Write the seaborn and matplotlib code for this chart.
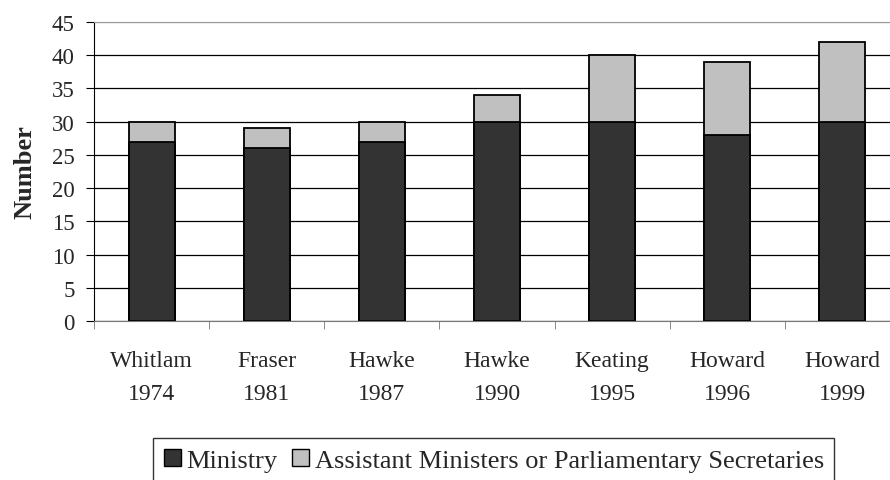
import pandas as pd
import numpy as np
import matplotlib.pyplot as plt
import matplotlib.patches as mpatches
import seaborn as sns

# data
governments = ['Whitlam\n1974', 'Fraser\n1981', 'Hawke\n1987', 'Hawke\n1990',
               'Keating\n1995', 'Howard\n1996', 'Howard\n1999']
ministry = [27, 26, 27, 30, 30, 28, 30]
assistants = [3, 3, 3, 4, 10, 11, 12]

df = pd.DataFrame({'gov': governments, 'Ministry': ministry,
                   'Assistant': assistants})
df['Total'] = df['Ministry'] + df['Assistant']

sns.set_style('white')
plt.rcParams['font.family'] = ['Liberation Serif', 'DejaVu Serif']

fig = plt.figure(figsize=(8.9, 4.81), dpi=100)
ax = fig.add_axes([94 / 890, 159 / 481, 806 / 890, 299 / 481])

# stacked bars: total underneath in light gray, ministry on top of it in dark
sns.barplot(data=df, x='gov', y='Total', color='#C0C0C0', width=0.4,
            edgecolor='black', linewidth=1.3, saturation=1, ax=ax)
sns.barplot(data=df, x='gov', y='Ministry', color='#333333', width=0.4,
            edgecolor='black', linewidth=1.3, saturation=1, ax=ax)

ax.set_xlim(-0.5, 6.5)
ax.set_ylim(0, 45)
ax.set_yticks(np.arange(0, 46, 5))
ax.set_axisbelow(True)
ax.yaxis.grid(True, color='black', linewidth=0.9)
ax.xaxis.grid(False)
ax.get_ygridlines()[-1].set_color('#999999')

ax.spines['right'].set_visible(False)
ax.spines['top'].set_color('#999999')
ax.spines['left'].set_color('black')
ax.spines['bottom'].set_color('#777777')

ax.set_xticks(np.arange(7))
ax.set_xticklabels(governments, fontsize=17, linespacing=1.75)
ax.set_xticks(np.arange(-0.5, 7, 1), minor=True)
ax.tick_params(axis='x', which='major', length=0, pad=21)
ax.tick_params(axis='x', which='minor', length=6, color='#777777',
               direction='out', bottom=True)
ax.tick_params(axis='y', length=6, color='black', direction='out',
               left=True, labelsize=16.5, pad=8)

ax.set_xlabel('')
ax.set_ylabel('Number', fontsize=19, fontweight='bold', labelpad=11)

handles = [mpatches.Patch(facecolor='#333333', edgecolor='black', label='Ministry'),
           mpatches.Patch(facecolor='#C0C0C0', edgecolor='black',
                          label='Assistant Ministers or Parliamentary Secretaries')]
leg = fig.legend(handles=handles, ncol=2, loc='upper left',
                 bbox_to_anchor=(153 / 890, 1 - 439 / 481), fontsize=19,
                 frameon=True, fancybox=False, edgecolor='black',
                 handlelength=0.66, handleheight=0.66, handletextpad=0.2,
                 columnspacing=0.55, borderaxespad=0, borderpad=0.4)
leg.get_frame().set_linewidth(1.0)

fig.savefig('out.png', dpi=100)
plt.close()
